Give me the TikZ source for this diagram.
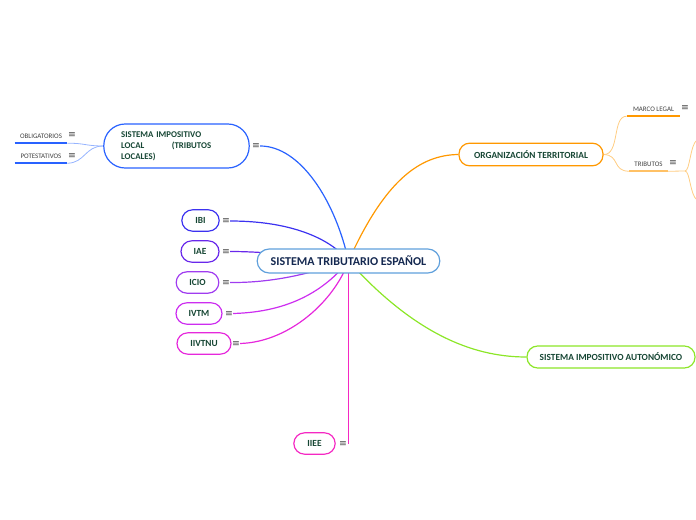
\documentclass[tikz,border=0pt]{standalone}
\usepackage{fontspec}
\setmainfont{Carlito}
\newfontfamily\iconfont{DejaVu Sans}
\usepackage{xcolor}
\usetikzlibrary{positioning, backgrounds}
\definecolor{mainblue}{RGB}{96, 160, 220}
\definecolor{localblue}{RGB}{41, 98, 255}
\definecolor{leafblue}{RGB}{150, 180, 255}
\definecolor{orgorange}{RGB}{255, 152, 0}
\definecolor{leaforange}{RGB}{255, 205, 130}
\definecolor{autgreen}{RGB}{140, 230, 40}
\definecolor{ibicol}{RGB}{60, 50, 240}
\definecolor{iaecol}{RGB}{105, 40, 235}
\definecolor{iciocol}{RGB}{160, 60, 240}
\definecolor{ivtmcol}{RGB}{205, 45, 240}
\definecolor{iivtnucol}{RGB}{230, 40, 220}
\definecolor{iieecol}{RGB}{245, 40, 195}
\definecolor{textgreen}{RGB}{22, 70, 52}
\definecolor{textnavy}{RGB}{20, 40, 80}

\begin{document}
\begin{tikzpicture}[x=0.75pt, y=-0.75pt,
    topic/.style={draw=#1, line width=0.9pt, rounded corners=8pt, fill=white,
                  inner sep=2pt, font=\fontsize{7}{8}\selectfont\bfseries,
                  text=textgreen, align=center},
    leaf/.style={inner sep=1pt, minimum height=10.5pt,
                 font=\fontsize{5.2}{6}\selectfont, text=black!75},
    icon/.style={inner sep=0pt, font=\iconfont\fontsize{7}{7}\selectfont, text=black!70},
    branch/.style={draw=#1, line width=0.9pt},
    twig/.style={draw=#1, line width=0.6pt}
]
    % frame
    \useasboundingbox (0,0) rectangle (696,520);

    % centre
    \node[draw=mainblue, line width=0.9pt, rounded corners=9pt, fill=white,
          minimum width=137pt, minimum height=18pt, text=textnavy,
          font=\fontsize{9}{10}\selectfont\bfseries] (cen) at (348.5,261) {SISTEMA TRIBUTARIO ESPAÑOL};

    % main topics
    \node[topic=localblue, rounded corners=16pt, minimum width=109pt, minimum height=33pt,
          text width=83pt, align=left, font=\fontsize{6.6}{8.2}\selectfont\bfseries] (sil) at (176.5,146)
          {SISTEMA IMPOSITIVO\\\makebox[67.5pt][s]{LOCAL\hfill(TRIBUTOS}\\LOCALES)};
    \node[icon] (silicon) at (256,146) {≡};
    \node[topic=orgorange, minimum width=108pt, minimum height=17pt] (org) at (531,154.5) {ORGANIZACIÓN TERRITORIAL};
    \node[topic=autgreen, minimum width=126pt, minimum height=16.5pt] (aut) at (611,357) {SISTEMA IMPOSITIVO AUTONÓMICO};

    % taxes
    \node[topic=ibicol, minimum width=28pt, minimum height=16pt] (ibi) at (200.5,220.5) {IBI};
    \node[icon] (ibiicon) at (226,221) {≡};
    \node[topic=iaecol, minimum width=28.5pt, minimum height=16pt] (iae) at (200,251.5) {IAE};
    \node[icon] (iaeicon) at (226,251.5) {≡};
    \node[topic=iciocol, minimum width=32pt, minimum height=16pt] (icio) at (197.5,282.5) {ICIO};
    \node[icon] (icioicon) at (226,282.5) {≡};
    \node[topic=ivtmcol, minimum width=34.5pt, minimum height=16pt] (ivtm) at (199,313.5) {IVTM};
    \node[icon] (ivtmicon) at (229,313.5) {≡};
    \node[topic=iivtnucol, minimum width=40.5pt, minimum height=16pt] (iivtnu) at (204,343.5) {IIVTNU};
    \node[icon] (iivtnuicon) at (236,343.5) {≡};
    \node[topic=iieecol, minimum width=31pt, minimum height=16pt] (iiee) at (314.5,443.5) {IIEE};
    \node[icon] (iieeicon) at (343,443.5) {≡};

    % leaves
    \node[leaf, minimum width=39pt] (oblig) at (41,136) {OBLIGATORIOS};
    \node[icon] (obligicon) at (72,135) {≡};
    \node[leaf, minimum width=39pt] (potest) at (41,156) {POTESTATIVOS};
    \node[icon] (potesticon) at (72,155.5) {≡};
    \node[leaf, minimum width=40pt] (marco) at (653.5,109) {MARCO LEGAL};
    \node[icon] (marcoicon) at (685,108) {≡};
    \node[leaf, minimum width=29pt] (trib) at (648.5,164) {TRIBUTOS};
    \node[icon] (tribicon) at (673,163) {≡};
    \coordinate (tribsplit) at (685,171);
    \coordinate (tribup) at (697,140);
    \coordinate (tribdown) at (697,200);

    \begin{scope}[on background layer]
        \draw[branch=localblue] (cen.center) .. controls (335,200) and (300,146) .. (silicon.east);
        \draw[branch=orgorange] (cen.center) .. controls (385,180) and (420,155) .. (org.west);
        \draw[branch=autgreen] (cen.center) .. controls (420,340) and (480,357) .. (aut.west);
        \draw[branch=ibicol] (ibiicon.east) .. controls (290,221) and (330,238) .. (cen.center);
        \draw[branch=iaecol] (iaeicon.east) .. controls (260,251.5) and (300,255) .. (cen.center);
        \draw[branch=iciocol] (icioicon.east) .. controls (280,283) and (320,270) .. (cen.center);
        \draw[branch=ivtmcol] (ivtmicon.east) .. controls (290,312) and (325,290) .. (cen.center);
        \draw[branch=iivtnucol] (iivtnuicon.east) .. controls (290,342) and (335,300) .. (cen.center);
        \draw[branch=iieecol] (cen.center) -- (cen.center |- iieeicon.east);

        \draw[twig=leafblue] (sil.west) .. controls (85,146) and (85,143) .. (oblig.south east);
        \draw[twig=leafblue] (sil.west) .. controls (85,146) and (85,163) .. (potest.south east);
        \draw[twig=leaforange] (org.east) .. controls (620,155) and (612,116) .. (marco.south west);
        \draw[twig=leaforange] (org.east) .. controls (620,155) and (612,171) .. (trib.south west);
        \draw[twig=leaforange] (trib.south east) -- (tribsplit);
        \draw[twig=leaforange] (tribsplit) .. controls (690,171) and (690,145) .. (tribup);
        \draw[twig=leaforange] (tribsplit) .. controls (690,171) and (690,195) .. (tribdown);
    \end{scope}

    % underlines
    \draw[localblue, line width=1.2pt] (oblig.south west) -- (oblig.south east);
    \draw[localblue, line width=1.2pt] (potest.south west) -- (potest.south east);
    \draw[orgorange, line width=1.2pt] (marco.south west) -- (marco.south east);
    \draw[orgorange!60, line width=1.2pt] (trib.south west) -- (trib.south east);
\end{tikzpicture}
\end{document}
